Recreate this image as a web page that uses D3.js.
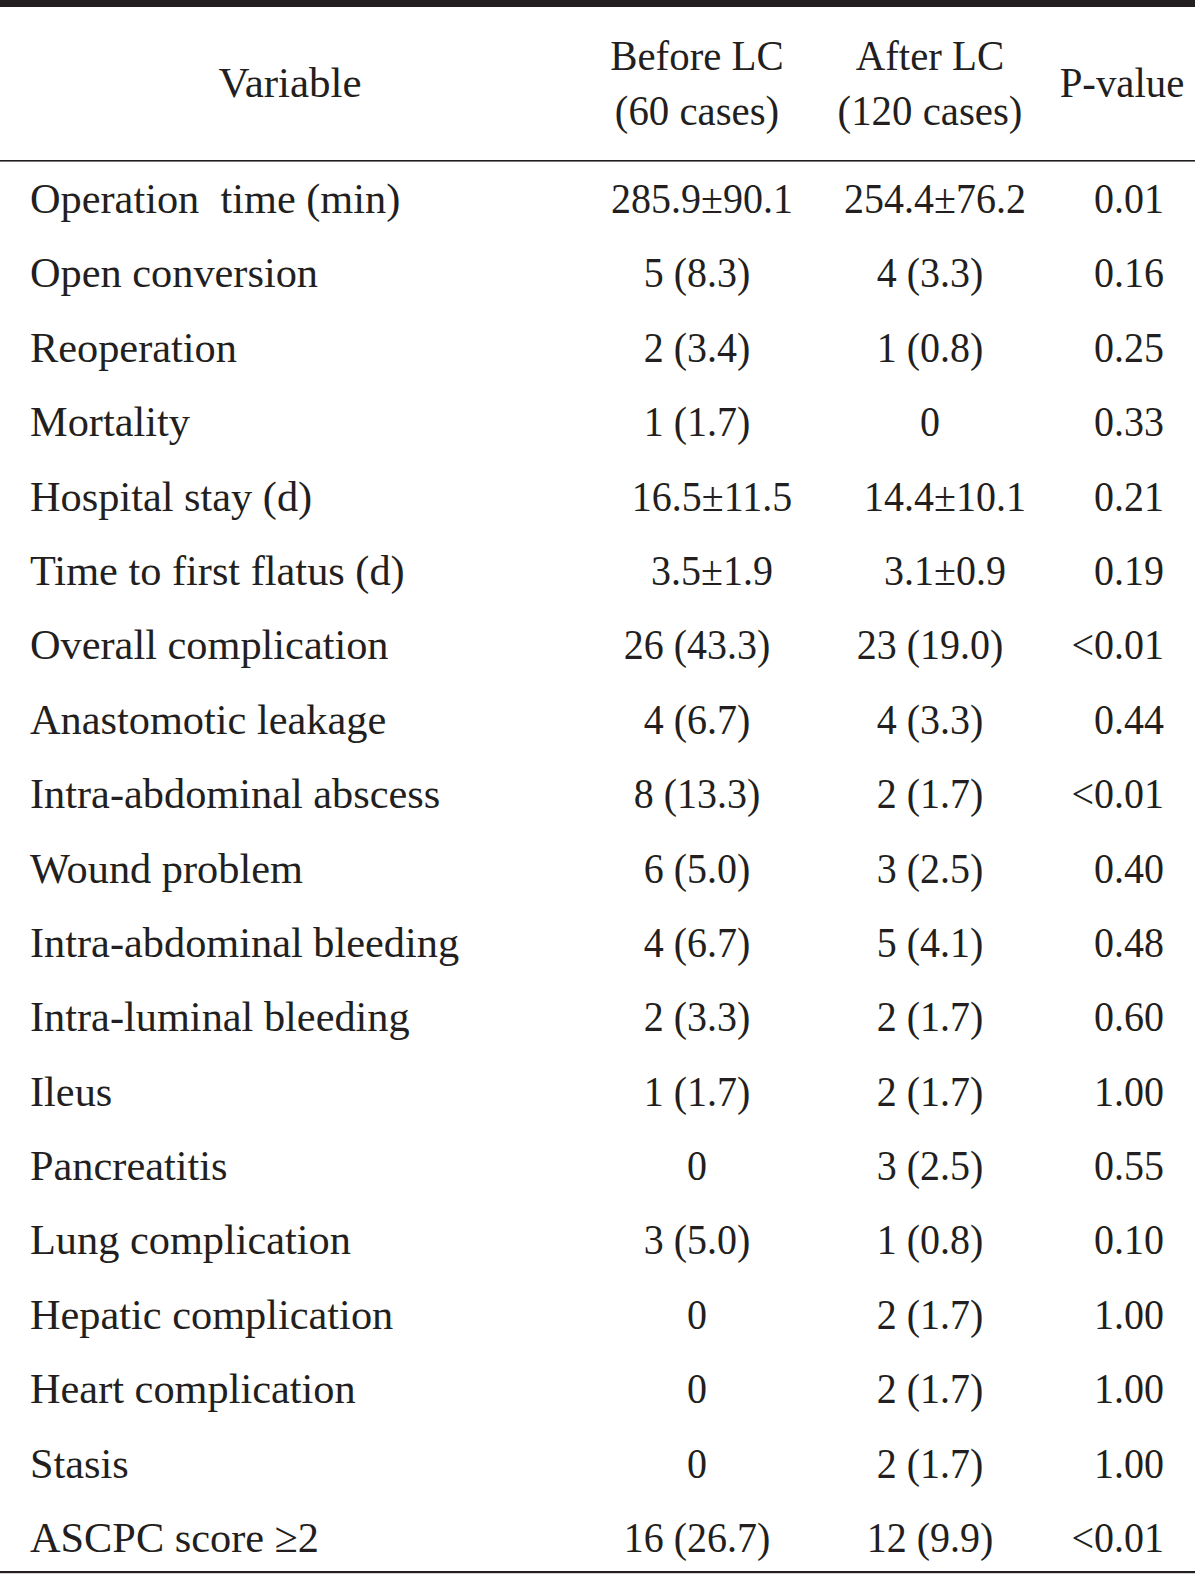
<!DOCTYPE html>
<html><head><meta charset="utf-8">
<script src="https://cdn.jsdelivr.net/npm/d3@7"></script>
<style>
html,body{margin:0;padding:0;background:#fff;}
text{font-family:"Liberation Serif","Times New Roman",serif;fill:#231f20;}
</style></head>
<body>
<script>
const headers = [["Variable"], ["Before LC", "(60 cases)"], ["After LC", "(120 cases)"], ["P-value"]];
const variables = ["Operation  time (min)", "Open conversion", "Reoperation", "Mortality", "Hospital stay (d)", "Time to first flatus (d)", "Overall complication", "Anastomotic leakage", "Intra-abdominal abscess", "Wound problem", "Intra-abdominal bleeding", "Intra-luminal bleeding", "Ileus", "Pancreatitis", "Lung complication", "Hepatic complication", "Heart complication", "Stasis", "ASCPC score \u22652"];
const beforeLC = ["\u00a0285.9\u00b190.1", "5 (8.3)", "2 (3.4)", "1 (1.7)", "\u00a0\u00a0\u00a016.5\u00b111.5", "\u00a0\u00a0\u00a03.5\u00b11.9", "26 (43.3)", "4 (6.7)", "8 (13.3)", "6 (5.0)", "4 (6.7)", "2 (3.3)", "1 (1.7)", "0", "3 (5.0)", "0", "0", "0", "16 (26.7)"];
const afterLC = ["\u00a0254.4\u00b176.2", "4 (3.3)", "1 (0.8)", "0", "\u00a0\u00a0\u00a014.4\u00b110.1", "\u00a0\u00a0\u00a03.1\u00b10.9", "23 (19.0)", "4 (3.3)", "2 (1.7)", "3 (2.5)", "5 (4.1)", "2 (1.7)", "2 (1.7)", "3 (2.5)", "1 (0.8)", "2 (1.7)", "2 (1.7)", "2 (1.7)", "12 (9.9)"];
const pValues = ["0.01", "0.16", "0.25", "0.33", "0.21", "0.19", "<0.01", "0.44", "<0.01", "0.40", "0.48", "0.60", "1.00", "0.55", "0.10", "1.00", "1.00", "1.00", "<0.01"];

const W = 1200, H = 1575, FS = 43;
const svg = d3.select("body").append("svg").attr("width", W).attr("height", H);

const y = d3.scaleLinear().domain([0, variables.length - 1]).range([213, 1552]);
const colX = [30, 697, 930, 1164];
const headX = [290, 697, 930, 1122];
const numScale = 0.93;
const varScale = 0.985;

// rules
svg.append("rect").attr("x", 0).attr("y", 0).attr("width", 1195).attr("height", 7).attr("fill", "#231f20");
svg.append("rect").attr("x", 0).attr("y", 160).attr("width", 1195).attr("height", 1.6).attr("fill", "#231f20");
svg.append("rect").attr("x", 0).attr("y", 1571).attr("width", 1195).attr("height", 2.2).attr("fill", "#231f20");

// headers
headers.forEach((lines, i) => {
  const base = lines.length === 1 ? [97] : [70, 125];
  const sx = i === 0 ? 1 : 0.95;
  lines.forEach((t, j) => {
    svg.append("text").attr("transform", `translate(${headX[i]},${base[j]}) scale(${sx},1)`)
      .attr("text-anchor", "middle").attr("font-size", FS).text(t);
  });
});

// variable column
svg.append("g").selectAll("text").data(variables).join("text")
  .attr("transform", (d, i) => `translate(${colX[0]},${y(i)}) scale(${varScale},1)`)
  .attr("font-size", FS).style("white-space", "pre").text(d => d);

function numCol(data, x, anchor) {
  svg.append("g").selectAll("text").data(data).join("text")
    .attr("transform", (d, i) => `translate(${x},${y(i)}) scale(${numScale},1)`)
    .attr("text-anchor", anchor).attr("font-size", FS).text(d => d);
}
numCol(beforeLC, colX[1], "middle");
numCol(afterLC, colX[2], "middle");
numCol(pValues, colX[3], "end");
</script>
</body></html>
